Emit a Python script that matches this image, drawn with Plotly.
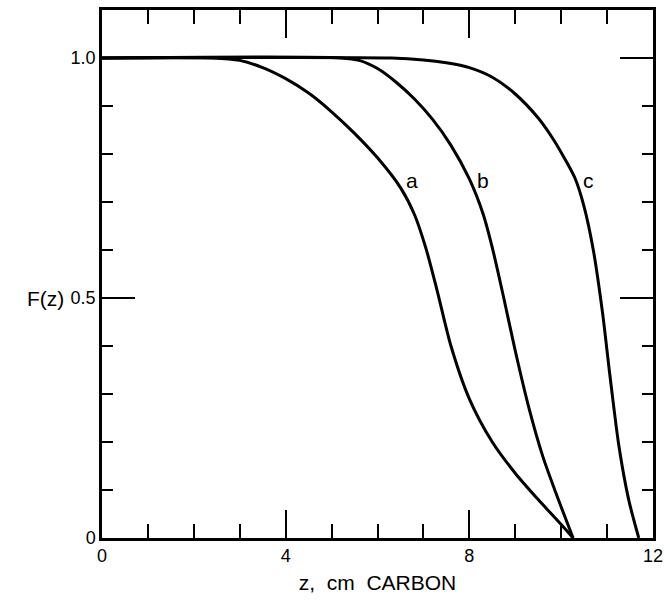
import plotly.graph_objects as go

# curve a
z_a = [0, 2.4, 3.0, 3.5, 4.0, 4.5, 5.0, 5.5, 6.0, 6.5, 6.8, 7.05, 7.3, 7.6, 8.0, 8.5, 9.0, 9.5, 10.0, 10.26]
f_a = [1, 1, 0.995, 0.98, 0.957, 0.927, 0.888, 0.843, 0.792, 0.73, 0.675, 0.605, 0.515, 0.40, 0.29, 0.20, 0.135, 0.08, 0.028, 0]
# curve b
z_b = [0, 5.2, 5.6, 6.0, 6.4, 6.8, 7.2, 7.6, 8.0, 8.3, 8.5, 8.75, 9.0, 9.3, 9.6, 9.9, 10.26]
f_b = [1, 1, 0.995, 0.978, 0.95, 0.915, 0.872, 0.818, 0.748, 0.675, 0.605, 0.50, 0.39, 0.27, 0.17, 0.09, 0]
# curve c
z_c = [0, 6.3, 7.0, 7.5, 8.0, 8.5, 9.0, 9.5, 9.8, 10.05, 10.3, 10.5, 10.7, 10.9, 11.06, 11.26, 11.47, 11.69]
f_c = [1, 1, 0.996, 0.99, 0.98, 0.96, 0.925, 0.875, 0.835, 0.795, 0.75, 0.69, 0.60, 0.47, 0.34, 0.19, 0.08, 0]

curve_labels = ["a", "b", "c"]
x_ticks = [0, 4, 8, 12]
y_ticks = [0, 0.5, 1.0]
y_ticktext = ["0", "0.5", "1.0"]

fig = go.Figure()
for zs, fs in [(z_a, f_a), (z_b, f_b), (z_c, f_c)]:
    fig.add_trace(go.Scatter(x=zs, y=fs, mode="lines",
                             line=dict(color="black", width=3, shape="spline", smoothing=0.8),
                             showlegend=False, hoverinfo="skip"))

font_main = "Liberation Sans, Arial, sans-serif"
for lab, (lx, ly) in zip(curve_labels, [(6.76, 0.745), (8.30, 0.745), (10.59, 0.745)]):
    fig.add_annotation(x=lx, y=ly, text=lab, showarrow=False,
                       font=dict(family=font_main, size=21, color="black"))

fig.add_annotation(xref="paper", yref="y", x=-0.066, y=0.5, text="F(z)", showarrow=False,
                   xanchor="right", font=dict(family=font_main, size=21, color="black"))

fig.update_layout(
    width=670, height=600,
    margin=dict(l=102, r=7, t=8, b=62),
    paper_bgcolor="white", plot_bgcolor="white",
    font=dict(family=font_main, color="black"),
    xaxis=dict(range=[0, 12], tickvals=x_ticks, ticktext=[str(v) for v in x_ticks],
               ticks="inside", ticklen=28, tickwidth=1.5, tickcolor="black",
               minor=dict(dtick=1, ticks="inside", ticklen=14, tickwidth=1.5, tickcolor="black", showgrid=False),
               showline=True, linecolor="black", linewidth=2.5, mirror="ticks",
               showgrid=False, zeroline=False, ticklabeloverflow="allow",
               tickfont=dict(size=18, family=font_main),
               title=dict(text="z,  cm  CARBON", font=dict(size=21, family=font_main), standoff=10)),
    yaxis=dict(range=[0, 1.1], tickvals=y_ticks, ticktext=y_ticktext,
               ticks="inside", ticklen=33, tickwidth=1.5, tickcolor="black",
               minor=dict(dtick=0.1, ticks="inside", ticklen=11, tickwidth=1.5, tickcolor="black", showgrid=False),
               showline=True, linecolor="black", linewidth=2.5, mirror="ticks",
               showgrid=False, zeroline=False, ticklabeloverflow="allow",
               tickfont=dict(size=18, family=font_main)),
)

fig.write_html("out.html")
